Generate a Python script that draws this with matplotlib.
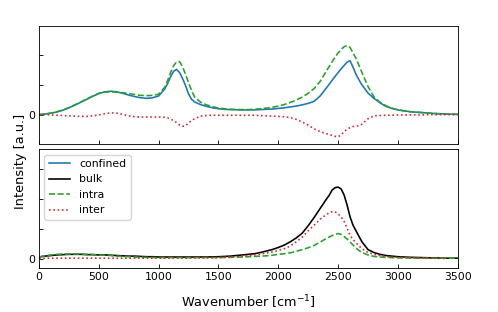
import numpy as np
import matplotlib
matplotlib.use("Agg")
import matplotlib.pyplot as plt

nan = np.nan

# Wavenumber grid (cm^-1)
wn = [0, 50, 100, 150, 200, 250, 300, 350, 400, 450, 500, 550, 600, 650, 700, 750,
      800, 850, 900, 950, 1000, 1050,
      1075, 1100, 1125, 1150, 1175, 1200, 1225, 1250, 1275,
      1300, 1350, 1400, 1450, 1500, 1550, 1600, 1650, 1700, 1750, 1800, 1850,
      1900, 1950, 2000, 2050, 2100, 2150, 2200, 2250, 2300, 2350, 2400,
      2425, 2450, 2475, 2500, 2525, 2550, 2575, 2600, 2625, 2650, 2675,
      2700, 2750, 2800, 2850, 2900, 2950, 3000, 3050, 3100, 3150, 3200, 3250,
      3300, 3350, 3400, 3450, 3500]

# Top panel
top_confined = [0.00, 0.02, 0.05, 0.09, 0.15, 0.23, 0.32, 0.42, 0.52, 0.62, 0.71, 0.77, 0.79, 0.77, 0.72, 0.66,
                0.61, 0.57, 0.55, 0.57, 0.63, 0.86,
                1.05, 1.28, 1.46, 1.53, 1.42, 1.22, 0.98, 0.70, 0.52,
                0.43, 0.34, 0.28, 0.23, 0.20, 0.18, 0.17, 0.165, 0.16, 0.16, 0.16, 0.17,
                0.18, 0.19, 0.21, 0.23, 0.26, 0.29, 0.33, 0.38, 0.45, 0.63, 0.89,
                1.02, 1.16, 1.29, 1.42, 1.54, 1.66, 1.77, 1.82, 1.60, 1.36, 1.17,
                1.00, 0.73, 0.55, 0.40, 0.28, 0.21, 0.16, 0.13, 0.10, 0.085, 0.07, 0.055,
                0.04, 0.03, 0.02, 0.015, 0.01]
top_intra = [0.00, 0.02, 0.05, 0.10, 0.16, 0.24, 0.33, 0.43, 0.53, 0.63, 0.72, 0.76, 0.77, 0.76, 0.74, 0.71,
             0.68, 0.65, 0.64, 0.65, 0.69, 0.92,
             1.15, 1.42, 1.65, 1.78, 1.79, 1.62, 1.36, 1.08, 0.82,
             0.60, 0.42, 0.33, 0.27, 0.22, 0.20, 0.18, 0.175, 0.17, 0.17, 0.18, 0.20,
             0.22, 0.25, 0.29, 0.34, 0.41, 0.49, 0.59, 0.72, 0.88, 1.12, 1.46,
             1.62, 1.78, 1.94, 2.08, 2.20, 2.29, 2.33, 2.27, 2.08, 1.90, 1.66,
             1.42, 0.95, 0.60, 0.42, 0.30, 0.22, 0.16, 0.13, 0.10, 0.085, 0.07, 0.055,
             0.04, 0.03, 0.02, 0.015, 0.01]
top_inter = [0.00, 0.00, -0.01, -0.02, -0.03, -0.04, -0.05, -0.06, -0.06, -0.04, -0.01, 0.03, 0.06, 0.05, 0.01, -0.04,
             -0.07, -0.08, -0.08, -0.08, -0.08, -0.09,
             -0.11, -0.15, -0.20, -0.27, -0.35, -0.39, -0.38, -0.28, -0.20,
             -0.14, -0.05, -0.03, -0.02, -0.02, -0.02, -0.02, -0.02, -0.02, -0.02, -0.02, -0.03,
             -0.04, -0.05, -0.06, -0.07, -0.10, -0.16, -0.25, -0.35, -0.48, -0.57, -0.64,
             -0.67, -0.70, -0.73, -0.75, -0.68, -0.58, -0.49, -0.44, -0.40, -0.39, -0.37,
             -0.32, -0.14, -0.04, -0.03, -0.02, -0.02, -0.01, -0.01, -0.01, -0.01, -0.01, 0.0,
             0.0, 0.0, 0.0, 0.0, 0.0]

# Bottom panel
bot_bulk = [0.05, 0.08, 0.10, 0.12, 0.13, 0.14, 0.14, 0.14, 0.13, 0.13, 0.12, 0.12, 0.11, 0.10, 0.09, 0.08,
            0.08, 0.07, 0.06, 0.06, 0.05, 0.05,
            0.05, 0.05, 0.05, 0.05, 0.05, 0.05, 0.05, 0.05, 0.05,
            0.05, 0.05, 0.05, 0.055, 0.06, 0.07, 0.08, 0.10, 0.12, 0.14, 0.16, 0.20,
            0.25, 0.30, 0.37, 0.45, 0.56, 0.69, 0.85, 1.10, 1.38, 1.68, 1.98,
            2.12, 2.30, 2.38, 2.40, 2.34, 2.14, 1.80, 1.40, 1.12, 0.93, 0.74,
            0.56, 0.30, 0.20, 0.14, 0.10, 0.08, 0.06, 0.05, 0.04, 0.035, 0.03, 0.025,
            0.02, 0.015, 0.01, 0.01, 0.01]
bot_intra = [0.05, 0.09, 0.12, 0.14, 0.15, 0.15, 0.15, 0.15, 0.14, 0.13, 0.12, 0.11, 0.10, 0.08, 0.07, 0.06,
             0.05, 0.045, 0.04, 0.035, 0.03, 0.03,
             0.03, 0.03, 0.03, 0.03, 0.03, 0.03, 0.03, 0.03, 0.03,
             0.03, 0.03, 0.03, 0.03, 0.03, 0.035, 0.04, 0.045, 0.05, 0.06, 0.07, 0.08,
             0.09, 0.11, 0.14, 0.16, 0.19, 0.24, 0.30, 0.36, 0.44, 0.55, 0.67,
             0.72, 0.77, 0.81, 0.84, 0.81, 0.74, 0.66, 0.56, 0.45, 0.35, 0.27,
             0.20, 0.12, 0.07, 0.05, 0.04, 0.03, 0.02, 0.02, 0.015, 0.01, 0.01, 0.01,
             0.01, 0.01, 0.01, 0.01, 0.01]
bot_inter = [0.00, 0.01, 0.01, 0.01, 0.01, 0.01, 0.01, 0.01, 0.01, 0.01, 0.01, 0.01, 0.01, 0.01, 0.01, 0.01,
             0.01, 0.01, 0.01, 0.01, 0.01, 0.01,
             0.01, 0.01, 0.01, 0.01, 0.01, 0.01, 0.01, 0.01, 0.01,
             0.02, 0.02, 0.02, 0.025, 0.03, 0.04, 0.05, 0.06, 0.08, 0.10, 0.12, 0.15,
             0.18, 0.22, 0.27, 0.33, 0.42, 0.56, 0.72, 0.93, 1.12, 1.32, 1.47,
             1.53, 1.57, 1.57, 1.50, 1.40, 1.25, 1.02, 0.78, 0.64, 0.53, 0.42,
             0.33, 0.20, 0.14, 0.10, 0.07, 0.05, 0.04, 0.035, 0.03, 0.025, 0.02, 0.015,
             0.01, 0.005, 0.0, nan, nan]

xticks = [0, 500, 1000, 1500, 2000, 2500, 3000, 3500]

fs_tick = 7.8
fs_label = 9.3
lw = 1.17

plt.rcParams['font.family'] = ['DejaVu Sans']
fig = plt.figure(figsize=(4.98, 3.12), dpi=100)
ax1 = fig.add_axes([0.0783, 0.5375, 0.8408, 0.3801])
ax2 = fig.add_axes([0.0783, 0.1400, 0.8408, 0.3815])

l_conf, = ax1.plot(wn, top_confined, color='C0', lw=lw, label='confined')
l_intra, = ax1.plot(wn, top_intra, color='C2', lw=lw, ls='--', label='intra')
l_inter, = ax1.plot(wn, top_inter, color='C3', lw=lw, ls=':', label='inter')

l_bulk, = ax2.plot(wn, bot_bulk, color='black', lw=lw, label='bulk')
ax2.plot(wn, bot_intra, color='C2', lw=lw, ls='--')
ax2.plot(wn, bot_inter, color='C3', lw=lw, ls=':')

ax1.set_ylim(-1, 3)
ax1.set_yticks([0, 1, 2])
ax1.set_yticklabels(['0', '', ''])
ax2.set_ylim(-0.33, 3.67)
ax2.set_yticks([0, 1, 2, 3])
ax2.set_yticklabels(['0', '', '', ''])

for ax in (ax1, ax2):
    ax.set_xlim(0, 3500)
    ax.set_xticks(xticks)
    ax.tick_params(direction='in', length=2.7, width=0.62, labelsize=fs_tick, pad=2.7)
    for sp in ax.spines.values():
        sp.set_linewidth(0.62)
ax1.set_xticklabels([])
ax2.set_xlabel('Wavenumber [cm$^{-1}$]', fontsize=fs_label, labelpad=8)
fig.text(0.0416, 0.482, 'Intensity [a.u.]', rotation=90, ha='center', va='center',
         fontsize=fs_label)

ax2.legend(handles=[l_conf, l_bulk, l_intra, l_inter], loc='upper left',
           fontsize=fs_tick)

fig.savefig('out.png', dpi=100)
